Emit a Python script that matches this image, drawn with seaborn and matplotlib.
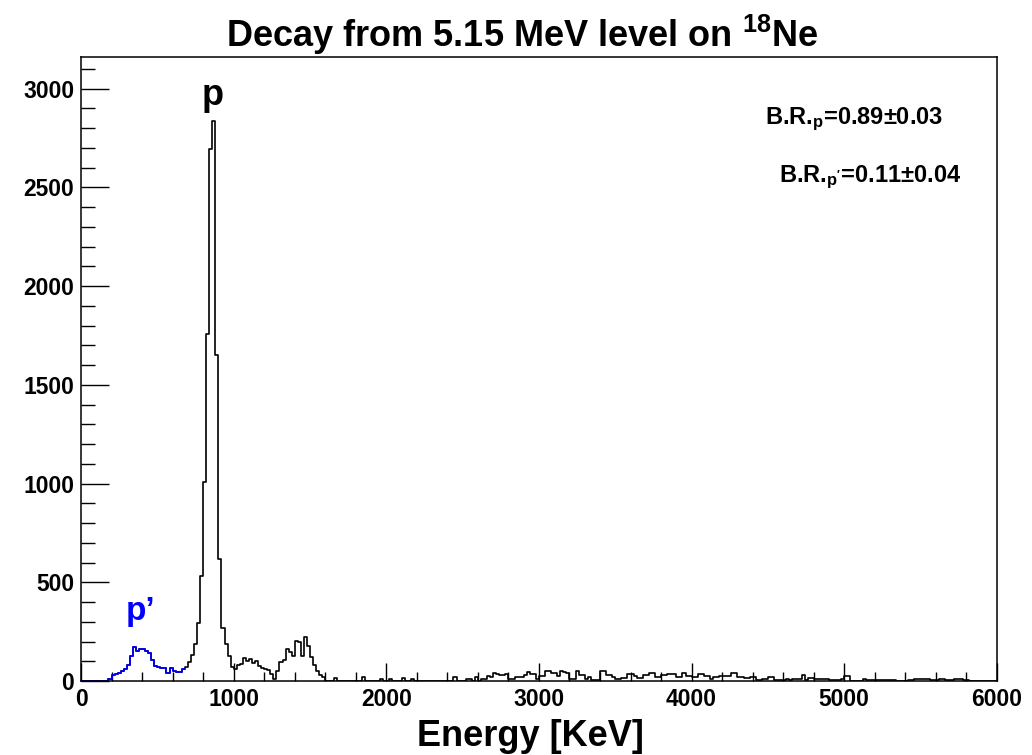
import numpy as np
import pandas as pd
import matplotlib
matplotlib.use('Agg')
import matplotlib.pyplot as plt
from matplotlib.ticker import MultipleLocator
import seaborn as sns

# espectro em bins de 20 keV, de 0 a 6000 keV
e_min = 0
e_max = 6000
largura_bin = 20

contagens = [
    0, 0, 0, 0, 0, 0, 0, 0, 0, 12,                 # 0-200
    32, 36, 40, 52, 62, 80, 128, 172, 152, 164,     # 200-400
    160, 152, 140, 108, 78, 72, 66, 64, 42, 64,     # 400-600
    52, 47, 48, 59, 72, 98, 130, 185, 292, 531,     # 600-800
    1008, 1758, 2694, 2834, 1649, 620, 266, 187, 128, 72,  # 800-1000
    62, 80, 85, 115, 100, 112, 90, 102, 75, 68,     # 1000-1200
    60, 58, 38, 12, 50, 95, 105, 160, 145, 128,     # 1200-1400
    205, 200, 128, 222, 178, 120, 80, 50, 30, 18,   # 1400-1600
    0, 0, 0, 17, 0, 0, 0, 0, 0, 0,                  # 1600-1800
    0, 0, 19, 0, 0, 0, 0, 0, 8, 0,                  # 1800-2000
    0, 8, 0, 0, 0, 17, 0, 0, 12, 0,                 # 2000-2200
    0, 0, 0, 0, 0, 0, 0, 0, 0, 0,                   # 2200-2400
    0, 0, 19, 0, 0, 0, 8, 8, 0, 19,                 # 2400-2600
    0, 12, 12, 25, 20, 39, 35, 30, 30, 35,          # 2600-2800
    12, 12, 19, 19, 19, 30, 45, 35, 35, 10,         # 2800-3000
    25, 25, 52, 50, 39, 39, 25, 52, 45, 42,         # 3000-3200
    10, 10, 52, 30, 30, 10, 19, 5, 5, 5,            # 3200-3400
    52, 52, 30, 30, 19, 10, 10, 17, 17, 35,         # 3400-3600
    35, 25, 17, 17, 30, 30, 42, 42, 19, 19,         # 3600-3800
    30, 30, 35, 35, 35, 22, 22, 42, 25, 25,         # 3800-4000
    22, 22, 35, 35, 25, 25, 8, 19, 19, 25,          # 4000-4200
    25, 25, 25, 39, 39, 22, 22, 13, 13, 19,         # 4200-4400
    19, 5, 5, 10, 10, 19, 19, 5, 5, 5,              # 4400-4600
    5, 10, 5, 10, 10, 10, 30, 5, 13, 13,            # 4600-4800
    10, 10, 10, 10, 10, 5, 5, 5, 5, 10,             # 4800-5000
    25, 25, 0, 0, 0, 0, 10, 5, 5, 5,                # 5000-5200
    5, 5, 5, 5, 5, 5, 5, 0, 0, 0,                   # 5200-5400
    0, 5, 5, 8, 8, 8, 8, 8, 5, 5,                   # 5400-5600
    5, 10, 10, 5, 5, 5, 10, 10, 10, 5,              # 5600-5800
    5, 0, 0, 0, 0, 0, 0, 0, 0, 0,                   # 5800-6000
]
n_bins_pp = 34  # primeiros bins (ate 680 keV) desenhados em azul: p'

titulo = 'Decay from 5.15 MeV level on $^{18}$Ne'
rotulo_x = 'Energy [KeV]'
texto_br_p = 'B.R.$_{p}$=0.89\u00b10.03'
texto_br_pp = "B.R.$_{p'}$=0.11\u00b10.04"

sns.set_style('ticks')
plt.rcParams['font.family'] = ['Liberation Sans', 'DejaVu Sans']
plt.rcParams['font.weight'] = 'bold'
plt.rcParams['mathtext.fontset'] = 'custom'
plt.rcParams['mathtext.rm'] = 'Liberation Sans:bold'
plt.rcParams['mathtext.bf'] = 'Liberation Sans:bold'
plt.rcParams['mathtext.it'] = 'Liberation Sans:bold'
plt.rcParams['mathtext.default'] = 'bf'
for chave in ['text.color', 'axes.labelcolor', 'xtick.color', 'ytick.color', 'axes.edgecolor']:
    plt.rcParams[chave] = 'black'

centros = np.arange(e_min, e_max, largura_bin) + largura_bin / 2
espectro = pd.DataFrame({'energia': centros, 'contagens': contagens})

fig = plt.figure(figsize=(10.32, 7.55), dpi=100)
ax = fig.add_axes([0.0785, 0.098, 0.8875, 0.8265])

sns.histplot(data=espectro, x='energia', weights='contagens',
             binwidth=largura_bin, binrange=(e_min, e_max),
             element='step', fill=False, color='black', linewidth=1.2, ax=ax)
sns.histplot(data=espectro.iloc[:n_bins_pp], x='energia', weights='contagens',
             binwidth=largura_bin, binrange=(e_min, n_bins_pp * largura_bin),
             element='step', fill=False, color='blue', linewidth=1.2, ax=ax)

ax.set_xlim(e_min, e_max)
ax.set_ylim(0, 3160)
ax.set_xlabel('')
ax.set_ylabel('')

ax.xaxis.set_major_locator(MultipleLocator(1000))
ax.xaxis.set_minor_locator(MultipleLocator(200))
ax.yaxis.set_major_locator(MultipleLocator(500))
ax.yaxis.set_minor_locator(MultipleLocator(100))
ax.tick_params(which='both', direction='in', top=False, right=False,
               width=1.0, labelsize=16.5)
ax.tick_params(axis='y', which='major', length=20, pad=5)
ax.tick_params(axis='y', which='minor', length=10)
ax.tick_params(axis='x', which='major', length=13, pad=5)
ax.tick_params(axis='x', which='minor', length=6.5)
for lado in ax.spines.values():
    lado.set_linewidth(1.1)
    lado.set_visible(True)

ax.text(862, 2918, 'p', fontsize=26, fontweight='bold', ha='center', va='baseline')
ax.text(390, 309, 'p\u2019', fontsize=24, fontweight='bold', color='blue',
        ha='center', va='baseline')
ax.text(4480, 2822, texto_br_p, fontsize=17, fontweight='bold', ha='left', va='baseline')
ax.text(4570, 2524, texto_br_pp, fontsize=17, fontweight='bold', ha='left', va='baseline')

fig.text(0.506, 0.9377, titulo, fontsize=26, fontweight='bold', ha='center', va='baseline')
fig.text(0.5136, 0.012, rotulo_x, fontsize=26, fontweight='bold', ha='center', va='baseline')

fig.savefig('out.png', dpi=100)
